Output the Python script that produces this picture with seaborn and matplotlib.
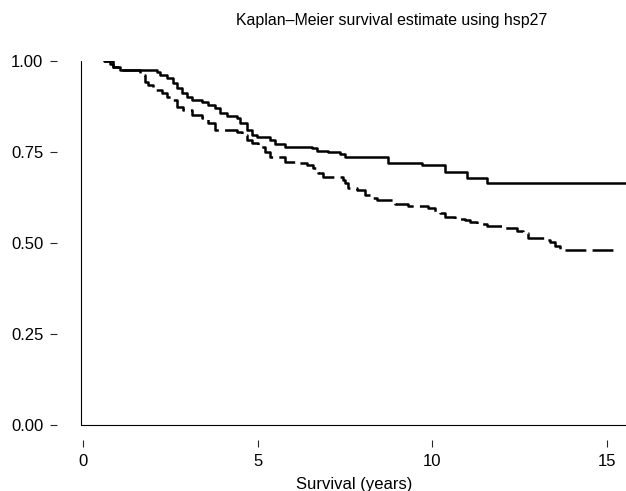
import numpy as np
import pandas as pd
import matplotlib
matplotlib.use("Agg")
import matplotlib.pyplot as plt
import seaborn as sns

# Kaplan-Meier step estimates (time in years, survival)
solid_time = [0.60, 0.77, 0.86, 1.06, 2.12, 2.21, 2.41, 2.58, 2.69, 2.84, 2.98, 3.12,
              3.41, 3.58, 3.78, 3.93, 4.13, 4.41, 4.50, 4.70, 4.84, 4.99, 5.36, 5.50,
              5.79, 6.56, 6.70, 7.02, 7.36, 7.51, 8.74, 9.71, 10.37, 11.00, 11.58, 15.70]
solid_surv = [1.000, 0.992, 0.984, 0.975, 0.970, 0.962, 0.953, 0.940, 0.926, 0.912, 0.901, 0.893,
              0.887, 0.879, 0.871, 0.857, 0.849, 0.843, 0.830, 0.810, 0.797, 0.791, 0.783, 0.772,
              0.764, 0.761, 0.753, 0.750, 0.745, 0.736, 0.720, 0.714, 0.695, 0.679, 0.665, 0.665]

dash_time = [0.60, 0.86, 1.06, 1.63, 1.78, 1.86, 2.01, 2.26, 2.41, 2.55,
             2.69, 2.87, 3.12, 3.41, 3.58, 3.78, 4.41, 4.56, 4.70, 4.84,
             5.01, 5.21, 5.36, 5.79, 6.16, 6.42, 6.59, 6.73, 6.88, 7.45,
             7.51, 7.59, 7.85, 8.08, 8.28, 8.42, 8.94, 9.31, 9.89, 10.09,
             10.23, 10.37, 10.66, 10.95, 11.09, 11.29, 11.58, 12.01, 12.44, 12.61,
             12.75, 13.30, 13.38, 13.52, 13.67, 15.33]
dash_surv = [1.000, 0.984, 0.975, 0.962, 0.942, 0.934, 0.920, 0.912, 0.901, 0.893,
             0.874, 0.865, 0.852, 0.843, 0.830, 0.810, 0.805, 0.797, 0.783, 0.775,
             0.764, 0.750, 0.736, 0.723, 0.720, 0.714, 0.706, 0.692, 0.681, 0.673,
             0.665, 0.651, 0.646, 0.632, 0.624, 0.618, 0.607, 0.602, 0.596, 0.585,
             0.582, 0.571, 0.566, 0.563, 0.558, 0.552, 0.547, 0.541, 0.533, 0.527,
             0.514, 0.508, 0.503, 0.492, 0.481, 0.481]

x_ticks = [0, 5, 10, 15]
y_ticks = [0.00, 0.25, 0.50, 0.75, 1.00]
y_tick_labels = ["0.00", "0.25", "0.50", "0.75", "1.00"]

TITLE = "Kaplan\u2013Meier survival estimate using hsp27"
XLABEL = "Survival (years)"

df = pd.concat([
    pd.DataFrame({"time": solid_time, "surv": solid_surv, "group": "high"}),
    pd.DataFrame({"time": dash_time, "surv": dash_surv, "group": "low"}),
], ignore_index=True)

sns.set_style("ticks")
plt.rcParams["font.family"] = ["Liberation Sans", "DejaVu Sans"]
plt.rcParams["lines.scale_dashes"] = False

fig = plt.figure(figsize=(6.26, 4.91), dpi=100)
ax = fig.add_axes([81 / 626, 66 / 491, 549 / 626, 364 / 491])

sns.lineplot(
    data=df, x="time", y="surv", hue="group", style="group",
    palette={"high": "black", "low": "black"},
    dashes={"high": "", "low": (15, 4.5)},
    estimator=None, sort=False, drawstyle="steps-post",
    linewidth=1.8, legend=False, ax=ax,
)

ax.set_xlim(-0.057, 15.67)
ax.set_ylim(0, 1)

# axis lines at the data edge, tick marks pushed outward (detached)
for side in ("top", "right"):
    ax.spines[side].set_visible(False)
ax.spines["left"].set_position(("outward", 17))
ax.spines["bottom"].set_position(("outward", 11))
ax.spines["left"].set_visible(False)
ax.spines["bottom"].set_visible(False)
ax.plot([0, 0], [0, 1], transform=ax.transAxes, color="black", lw=0.8, clip_on=False)
ax.plot([0, 1], [0, 0], transform=ax.transAxes, color="black", lw=0.8, clip_on=False)

ax.set_xticks(x_ticks)
ax.set_yticks(y_ticks)
ax.set_yticklabels(y_tick_labels)
ax.tick_params(axis="y", length=5, width=0.8, pad=5, labelsize=12, labelcolor="black")
ax.tick_params(axis="x", length=5, width=0.8, pad=5, labelsize=12, labelcolor="black")

ax.set_xlabel("")
ax.set_ylabel("")

fig.text(392 / 626, 1 - 20 / 491, TITLE, ha="center", va="center", fontsize=11.4, color="black")
fig.text(354 / 626, 1 - 485 / 491, XLABEL, ha="center", va="center", fontsize=12, color="black")

fig.savefig("out.png", dpi=100)
